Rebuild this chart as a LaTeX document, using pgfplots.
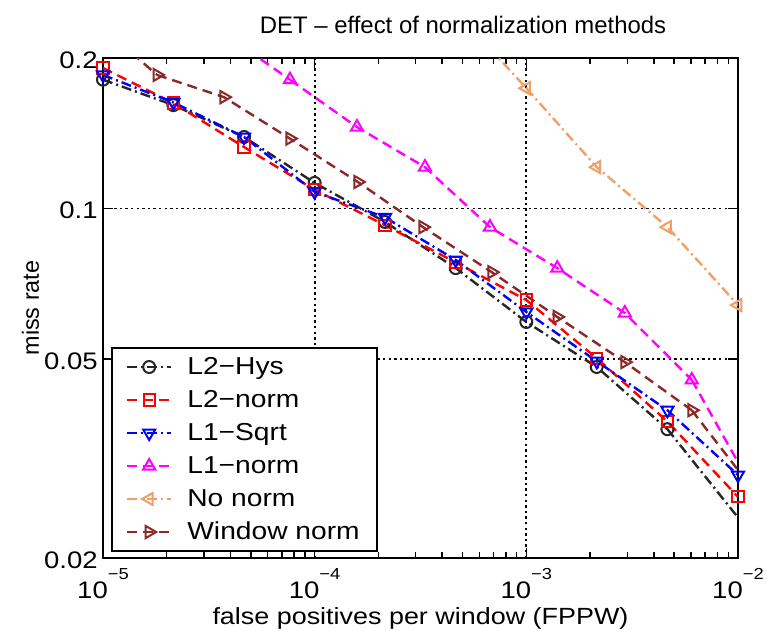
\documentclass[border=0pt]{standalone}
\usepackage{pgfplots}
\pgfplotsset{compat=1.18}
\usepackage{fontspec}
\setmainfont{Liberation Sans}[FakeStretch=1.15]
\newfontfamily\plainsans{Liberation Sans}
\definecolor{nonorm}{RGB}{240,160,100}
\definecolor{winb}{RGB}{140,40,40}
\definecolor{mag}{RGB}{255,0,255}
\tikzset{
  dashd/.style={dash pattern=on 5bp off 3bp},
  dashdot/.style={dash pattern=on 5bp off 2bp on 1bp off 2bp},
}
\newcommand{\tl}[1]{10\raisebox{9.5bp}{\fontsize{8}{8}\selectfont −#1}}
\begin{document}
\begin{tikzpicture}
\begin{loglogaxis}[
  name=ax, at={(0,0)}, anchor=south west,
  scale only axis, width=317.5bp, height=250bp,
  xmin=1e-5, xmax=1e-2, ymin=0.02, ymax=0.2,
  xtick={1e-5,1e-4,1e-3,1e-2},
  xticklabels={\tl{5},\tl{4},\tl{3},\tl{2}},
  minor xtick={2e-5,3e-5,4e-5,5e-5,6e-5,7e-5,8e-5,9e-5,2e-4,3e-4,4e-4,5e-4,6e-4,7e-4,8e-4,9e-4,2e-3,3e-3,4e-3,5e-3,6e-3,7e-3,8e-3,9e-3},
  ytick={0.02,0.05,0.1,0.2},
  yticklabels={0.02,0.05,0.1,0.2},
  minor ytick={},
  grid=major,
  major grid style={black, line width=0.9bp, dash pattern=on 1.2bp off 1.6bp},
  axis line style={black, line width=1bp},
  tick style={black, line width=0.8bp},
  major tick length=5bp, minor tick length=3bp,
  tick align=inside,
  ticklabel style={font=\fontsize{12}{14}\selectfont},
  xticklabel style={anchor=base, inner sep=0pt, yshift=-20bp},
  yticklabel style={anchor=east, inner sep=0pt, xshift=-2.5bp, yshift=-1bp},
  title={DET – effect of normalization methods},
  title style={at={(0.567,1)}, anchor=base, yshift=6.5bp, inner sep=0pt, font=\plainsans\fontsize{12}{14}\selectfont},
  xlabel={false positives per window (FPPW)},
  xlabel style={at={(0.5,0)}, anchor=base, yshift=-33bp, inner sep=0pt, font=\fontsize{11.75}{14}\selectfont},
  ylabel={miss rate},
  ylabel style={at={(0,0.5)}, anchor=base, yshift=32bp, inner sep=0pt, font=\plainsans\fontsize{11.75}{14}\selectfont},
  legend style={at={(0.0126,0.012)}, anchor=south west, draw=black, line width=1bp, fill=white,
     font=\fontsize{12.3}{15}\selectfont, inner xsep=7bp, inner ysep=1.5bp, column sep=6bp,
     nodes={inner sep=1.5bp, text height=10bp, text depth=3bp}, row sep=0.5bp},
  legend cell align=left,
  legend image code/.code={\draw[mark repeat=2,mark phase=2] plot coordinates {(0bp,0bp) (11bp,0bp) (22bp,0bp)};},
]
% L2-Hys
\addplot[black!85, line width=1.2bp, dashdot, mark=o, mark size=3bp, mark options={solid, line width=1bp}]
coordinates {(1.0e-5,0.181) (2.15e-5,0.161) (4.64e-5,0.139) (1.0e-4,0.1125) (2.15e-4,0.094) (4.64e-4,0.076) (1.0e-3,0.0593) (2.15e-3,0.0482) (4.64e-3,0.0362)};
\addlegendentry{L2−Hys}
\addplot[forget plot, black!85, line width=1.2bp, dashdot, no marks]
coordinates {(4.64e-3,0.0362) (1.0e-2,0.0241)};
% L2-norm
\addplot[red, line width=1.2bp, dashd, mark=square, mark size=2.8bp, mark options={solid, line width=1bp}]
coordinates {(1.0e-5,0.191) (2.15e-5,0.1625) (4.64e-5,0.1327) (1.0e-4,0.109) (2.15e-4,0.0926) (4.64e-4,0.078) (1.0e-3,0.0656) (2.15e-3,0.0502) (4.64e-3,0.0375) (1.0e-2,0.0265)};
\addlegendentry{L2−norm}
% L1-Sqrt
\addplot[blue, line width=1.2bp, dashdot, mark=triangle, mark size=3.5bp, mark options={solid, line width=1bp, rotate=180}]
coordinates {(1.0e-5,0.185) (2.15e-5,0.163) (4.64e-5,0.139) (1.0e-4,0.108) (2.15e-4,0.096) (4.64e-4,0.0789) (1.0e-3,0.0621) (2.15e-3,0.0495) (4.64e-3,0.0395) (1.0e-2,0.0293)};
\addlegendentry{L1−Sqrt}
% L1-norm
\addplot[mag, line width=1.2bp, dashd, mark=triangle, mark size=3.5bp, mark options={solid, line width=1bp}]
coordinates {(7.64e-5,0.181) (1.585e-4,0.1455) (3.32e-4,0.121) (6.73e-4,0.0918) (1.4e-3,0.076) (2.92e-3,0.0618) (6.05e-3,0.0454)};
\addlegendentry{L1−norm}
\addplot[forget plot, mag, line width=1.2bp, dashd, no marks]
coordinates {(4.82e-5,0.2075) (7.64e-5,0.181)};
\addplot[forget plot, mag, line width=1.2bp, dashd, no marks]
coordinates {(6.05e-3,0.0454) (1.0e-2,0.0311)};
% No norm
\addplot[nonorm, line width=1.2bp, dashdot, mark=triangle, mark size=3.5bp, mark options={solid, line width=1bp, rotate=90}]
coordinates {(1.0e-3,0.174) (2.15e-3,0.121) (4.64e-3,0.0918) (1.0e-2,0.0641)};
\addlegendentry{No norm}
\addplot[forget plot, nonorm, line width=1.2bp, dashdot, no marks]
coordinates {(5.0e-4,0.24) (1.0e-3,0.174)};
% Window norm
\addplot[winb, line width=1.2bp, dashd, mark=triangle, mark size=3.5bp, mark options={solid, line width=1bp, rotate=-90}]
coordinates {(1.8e-5,0.185) (3.73e-5,0.167) (7.64e-5,0.138) (1.6e-4,0.113) (3.25e-4,0.0918) (6.87e-4,0.0746) (1.4e-3,0.0607) (2.92e-3,0.0493) (6.05e-3,0.0395)};
\addlegendentry{Window norm}
\addplot[forget plot, winb, line width=1.2bp, dashd, no marks]
coordinates {(1.2e-5,0.215) (1.8e-5,0.185)};
\addplot[forget plot, winb, line width=1.2bp, dashd, no marks]
coordinates {(6.05e-3,0.0395) (1.0e-2,0.030)};
\end{loglogaxis}
\pgfresetboundingbox
\path[use as bounding box] (-51.5bp,-36.5bp) rectangle (332bp,279bp);
\end{tikzpicture}
\end{document}
